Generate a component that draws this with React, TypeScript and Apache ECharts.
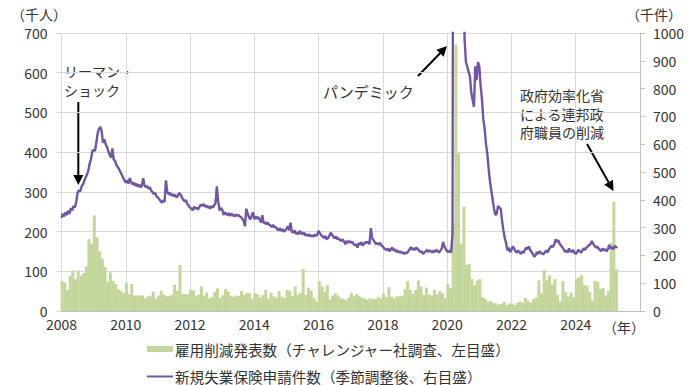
import React, { useEffect, useRef } from "react";
import * as echarts from "echarts";

// ---- Data ----
// Monthly job-cut announcements (thousand persons, left axis), Jan of each year first
const cuts2008 = [75, 72, 53, 89, 102, 80, 102, 88, 95, 112, 181, 170];
const cuts2009 = [241, 186, 150, 132, 111, 74, 97, 76, 68, 54, 50, 45];
const cuts2010 = [71, 42, 68, 39, 39, 39, 39, 32, 37, 37, 49, 32];
const cuts2011 = [39, 51, 42, 37, 37, 41, 66, 51, 116, 43, 42, 42];
const cuts2012 = [53, 52, 38, 41, 62, 38, 46, 32, 35, 48, 57, 33];
const cuts2013 = [40, 55, 49, 38, 36, 39, 38, 50, 40, 45, 45, 31];
const cuts2014 = [45, 42, 34, 40, 53, 31, 46, 37, 34, 50, 36, 33];
const cuts2015 = [53, 51, 37, 62, 41, 45, 106, 41, 59, 51, 33, 24];
const cuts2016 = [75, 62, 48, 65, 30, 39, 45, 39, 32, 31, 27, 34];
const cuts2017 = [46, 37, 43, 37, 33, 31, 28, 32, 30, 30, 35, 32];
const cuts2018 = [44, 35, 60, 36, 32, 37, 37, 38, 55, 75, 53, 43];
const cuts2019 = [53, 77, 61, 40, 59, 42, 39, 53, 42, 50, 45, 33];
const cuts2020 = [68, 57, 222, 671, 397, 170, 263, 116, 119, 81, 65, 77];
const cuts2021 = [80, 35, 31, 23, 25, 20, 19, 16, 18, 23, 15, 19];
const cuts2022 = [19, 15, 21, 24, 21, 33, 26, 21, 30, 34, 77, 44];
const cuts2023 = [103, 78, 90, 67, 80, 41, 24, 75, 47, 37, 46, 35];
const cuts2024 = [82, 85, 90, 65, 64, 49, 26, 76, 73, 56, 58, 39];
const cuts2025 = [50, 172, 275, 105];

// Initial jobless claims (thousand, seasonally adjusted, right axis), ~2 readings per month
const claims2008 = [335, 350, 340, 355, 345, 360, 350, 370, 362, 378, 372, 392, 425, 435, 430, 448, 455, 468, 480, 490, 505, 530, 545, 575];
const claims2009 = [580, 575, 605, 640, 655, 662, 648, 605, 618, 600, 590, 575, 560, 552, 585, 545, 540, 525, 518, 510, 500, 490, 480, 470];
const claims2010 = [462, 470, 458, 478, 465, 455, 462, 450, 458, 448, 455, 445, 450, 478, 452, 445, 450, 440, 445, 432, 428, 420, 425, 412];
const claims2011 = [408, 402, 395, 390, 398, 392, 470, 428, 420, 425, 415, 420, 412, 418, 408, 415, 425, 418, 408, 400, 395, 398, 385, 378];
const claims2012 = [372, 368, 362, 375, 368, 372, 365, 375, 382, 378, 385, 375, 380, 372, 376, 368, 378, 372, 380, 388, 448, 395, 362, 370];
const claims2013 = [365, 345, 355, 350, 345, 352, 342, 350, 345, 340, 348, 342, 346, 340, 338, 332, 325, 305, 368, 350, 338, 330, 342, 355];
const claims2014 = [330, 340, 332, 338, 328, 318, 345, 315, 320, 312, 318, 310, 308, 302, 310, 300, 303, 295, 290, 298, 288, 295, 285, 290];
const claims2015 = [295, 305, 290, 318, 285, 282, 290, 278, 282, 276, 288, 280, 276, 282, 272, 275, 270, 276, 268, 272, 268, 275, 270, 275];
const claims2016 = [288, 280, 272, 268, 262, 270, 258, 262, 270, 282, 275, 268, 262, 268, 258, 262, 255, 252, 258, 250, 240, 252, 245, 252];
const claims2017 = [245, 250, 242, 236, 240, 228, 245, 238, 248, 235, 242, 248, 245, 250, 240, 298, 262, 255, 248, 240, 245, 238, 245, 235];
const claims2018 = [232, 225, 222, 218, 225, 215, 222, 228, 218, 222, 212, 218, 210, 215, 208, 212, 205, 210, 208, 215, 222, 230, 220, 225];
const claims2019 = [220, 228, 222, 218, 212, 215, 205, 210, 215, 220, 212, 218, 215, 210, 218, 212, 220, 215, 210, 218, 225, 248, 232, 222];
const claims2020 = [215, 212, 218, 210, 280, 3300, 6800, 5200, 4400, 3200, 2500, 2100, 1400, 980, 895, 880, 860, 845, 785, 760, 735, 880, 830, 895];
const claims2021 = [880, 810, 760, 690, 655, 600, 565, 510, 465, 432, 400, 368, 345, 350, 378, 372, 368, 325, 290, 262, 245, 218, 228, 212];
const claims2022 = [220, 232, 225, 215, 210, 218, 212, 205, 215, 208, 220, 228, 222, 232, 220, 212, 205, 195, 200, 212, 205, 215, 210, 205];
const claims2023 = [205, 212, 218, 210, 222, 228, 235, 230, 240, 258, 248, 255, 242, 235, 230, 222, 212, 218, 210, 225, 215, 212, 220, 210];
const claims2024 = [205, 212, 220, 215, 210, 218, 225, 220, 228, 232, 238, 240, 252, 242, 235, 228, 232, 225, 220, 215, 225, 218, 222, 215];
const claims2025 = [222, 238, 225, 230, 222, 235, 228, 232];

const xTicks = [2008, 2010, 2012, 2014, 2016, 2018, 2020, 2022, 2024];
const legendBar = "雇用削減発表数（チャレンジャー社調査、左目盛）";
const legendLine = "新規失業保険申請件数（季節調整後、右目盛）";
const dogeLines = ["政府効率化省", "による連邦政", "府職員の削減"];

const cutsByYear = [cuts2008, cuts2009, cuts2010, cuts2011, cuts2012, cuts2013, cuts2014, cuts2015, cuts2016, cuts2017, cuts2018, cuts2019, cuts2020, cuts2021, cuts2022, cuts2023, cuts2024, cuts2025];
const claimsByYear = [claims2008, claims2009, claims2010, claims2011, claims2012, claims2013, claims2014, claims2015, claims2016, claims2017, claims2018, claims2019, claims2020, claims2021, claims2022, claims2023, claims2024, claims2025];

const FONT = '"Noto Sans CJK JP", "Noto Sans", sans-serif';
const TXT = "#333333";
const GRID = "#d9d9d9";
const GREEN = "#c3d69b";
const PURPLE = "#7356a3";

export default function App() {
  const ref = useRef<HTMLDivElement>(null);

  useEffect(() => {
    if (!ref.current) return;
    const chart = echarts.init(ref.current, undefined, { renderer: "svg" });

    const barData: number[][] = [];
    cutsByYear.forEach((arr, yi) => {
      arr.forEach((v, m) => barData.push([2008 + yi + m / 12 + 0.02, v]));
    });
    const lineData: number[][] = [];
    claimsByYear.forEach((arr, yi) => {
      arr.forEach((v, k) => lineData.push([2008 + yi + k / 24, v]));
    });

    const arrow = (x1: number, y1: number, x2: number, y2: number) => {
      const dx = x2 - x1;
      const dy = y2 - y1;
      const len = Math.sqrt(dx * dx + dy * dy);
      const ux = dx / len;
      const uy = dy / len;
      const hl = 10;
      const hw = 5;
      const bx = x2 - ux * hl;
      const by = y2 - uy * hl;
      return [
        { type: "line", shape: { x1, y1, x2: bx, y2: by }, style: { stroke: "#000", lineWidth: 2 } },
        {
          type: "polygon",
          shape: { points: [[x2, y2], [bx - uy * hw, by + ux * hw], [bx + uy * hw, by - ux * hw]] },
          style: { fill: "#000" },
        },
      ];
    };

    const dogeTexts = dogeLines.map((t, i) => ({
      type: "text",
      x: 520,
      y: 95 + i * 18.6,
      style: { text: t, fontFamily: FONT, fontSize: 14, fill: TXT, align: "left", verticalAlign: "middle" },
    }));

    const option: any = {
      animation: false,
      grid: { left: 61.5, right: 60, top: 33, bottom: 74, containLabel: false },
      xAxis: {
        type: "value",
        min: 2008,
        max: 2026,
        interval: 2,
        axisLine: { show: true, lineStyle: { color: "#bfbfbf", width: 1 } },
        axisTick: { show: false },
        splitLine: { show: true, lineStyle: { color: GRID, width: 1 } },
        axisLabel: {
          color: TXT,
          fontFamily: FONT,
          fontSize: 14,
          margin: 6,
          formatter: (v: number) => (xTicks.indexOf(v) >= 0 ? String(v) : ""),
        },
      },
      yAxis: [
        {
          type: "value",
          min: 0,
          max: 700,
          interval: 100,
          position: "left",
          axisLine: { show: false },
          axisTick: { show: true, length: 5, lineStyle: { color: GRID } },
          splitLine: { show: true, lineStyle: { color: GRID, width: 1 } },
          axisLabel: { color: TXT, fontFamily: FONT, fontSize: 14, margin: 14, formatter: (v: number) => String(v) },
        },
        {
          type: "value",
          min: 0,
          max: 1000,
          interval: 100,
          position: "right",
          axisLine: { show: true, lineStyle: { color: "#bfbfbf", width: 1 } },
          axisTick: { show: true, length: 5, lineStyle: { color: "#bfbfbf" } },
          splitLine: { show: false },
          axisLabel: { color: TXT, fontFamily: FONT, fontSize: 14, margin: 13, formatter: (v: number) => String(v) },
        },
      ],
      series: [
        {
          type: "bar",
          name: legendBar,
          xAxisIndex: 0,
          yAxisIndex: 0,
          data: barData,
          barWidth: 3,
          itemStyle: { color: GREEN },
          clip: true,
        },
        {
          type: "line",
          name: legendLine,
          xAxisIndex: 0,
          yAxisIndex: 1,
          data: lineData,
          showSymbol: false,
          symbol: "none",
          clip: true,
          lineStyle: { color: PURPLE, width: 2.4 },
          itemStyle: { color: PURPLE },
          z: 5,
        },
      ],
      graphic: [
        { type: "text", x: 39, y: 14, style: { text: "（千人）", fontFamily: FONT, fontSize: 14, fill: TXT, align: "center", verticalAlign: "middle" } },
        { type: "text", x: 654, y: 14, style: { text: "（千件）", fontFamily: FONT, fontSize: 14, fill: TXT, align: "center", verticalAlign: "middle" } },
        { type: "text", x: 624, y: 327, style: { text: "（年）", fontFamily: FONT, fontSize: 14, fill: TXT, align: "center", verticalAlign: "middle" } },
        { type: "text", x: 64, y: 62, style: { text: "リーマン・\nショック", fontFamily: FONT, fontSize: 14, lineHeight: 18.5, fill: TXT, align: "left", verticalAlign: "top" } },
        { type: "text", x: 323, y: 91, style: { text: "パンデミック", fontFamily: FONT, fontSize: 15, fill: TXT, align: "left", verticalAlign: "middle" } },
        ...dogeTexts,
        ...arrow(78.3, 102, 78.3, 185),
        ...arrow(418, 76, 447, 46),
        ...arrow(587, 144, 613.5, 191),
        { type: "rect", shape: { x: 147, y: 346, width: 26, height: 6 }, style: { fill: GREEN } },
        { type: "text", x: 175, y: 349, style: { text: legendBar, fontFamily: FONT, fontSize: 14.6, fill: TXT, align: "left", verticalAlign: "middle" } },
        { type: "line", shape: { x1: 147, y1: 376.5, x2: 173, y2: 376.5 }, style: { stroke: PURPLE, lineWidth: 2 } },
        { type: "text", x: 175, y: 376, style: { text: legendLine, fontFamily: FONT, fontSize: 14.6, fill: TXT, align: "left", verticalAlign: "middle" } },
      ],
    };

    chart.setOption(option);
    return () => chart.dispose();
  }, []);

  return (
    <div
      ref={ref}
      style={{ position: "fixed", left: 0, top: 0, width: 700, height: 385, background: "#fff" }}
    />
  );
}
